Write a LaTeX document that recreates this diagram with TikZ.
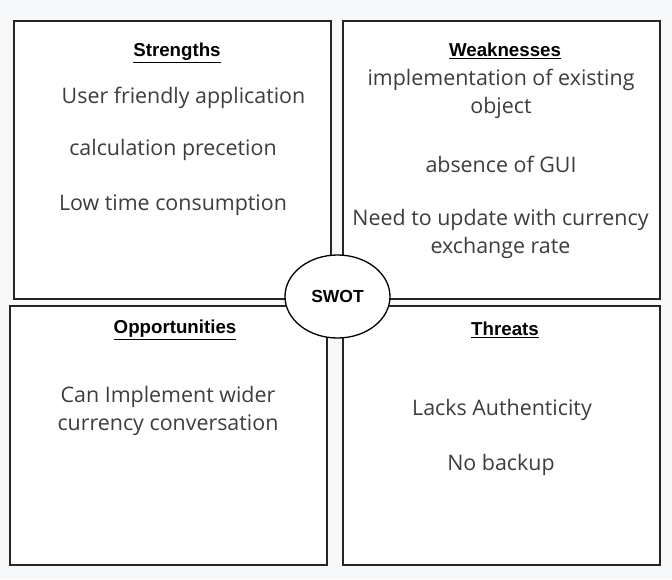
\documentclass[tikz,border=0pt]{standalone}
\usepackage{fontspec}
\setmainfont{Open Sans}
\newfontfamily\headfont{Liberation Sans}
\usetikzlibrary{shapes.geometric}
\definecolor{bodygray}{HTML}{3D3D3D}
\definecolor{canvas}{HTML}{F7F8FA}
\tikzset{
  quad/.style={draw=black!85, line width=1.3pt, fill=white, minimum width=317pt, inner sep=0pt},
  head/.style={font=\headfont\bfseries\fontsize{18.7}{22}\selectfont, inner sep=0pt},
  body/.style={font=\fontsize{21.4}{28}\selectfont, text=bodygray, align=center, inner sep=0pt},
  hub/.style={ellipse, draw, line width=1.3pt, fill=white, minimum width=105pt,
              minimum height=83pt, inner sep=0pt, font=\headfont\bfseries\fontsize{17.5}{20}\selectfont},
}
\begin{document}
\begin{tikzpicture}[x=1pt, y=-1pt]
  \fill[canvas] (0,0) rectangle (672,579);
  \useasboundingbox (0,0) rectangle (672,579);
  % the four quadrants
  \node[quad, minimum height=278pt] (str) at (172.5,160) {};
  \node[quad, minimum height=278pt] (wk) at (501.5,160) {};
  \node[quad, minimum height=259pt] (opp) at (168.5,435.5) {};
  \node[quad, minimum height=259pt] (thr) at (501.5,435.5) {};
  \node[hub] (swot) at (337.5,296.5) {SWOT};
  % headings
  \node[head] (strh) at (177,53) {\underline{Strengths}};
  \node[head] (wkh) at (505,51) {\underline{Weaknesses}};
  \node[head] (opph) at (175,330) {\underline{Opportunities}};
  \node[head] (thrh) at (505,330) {\underline{Threats}};
  % strengths
  \node[body] (s1) at (183.5,98) {User friendly application};
  \node[body] (s2) at (173,150) {calculation precetion};
  \node[body] (s3) at (173,205) {Low time consumption};
  % weaknesses
  \node[body] (w1) at (501,94) {implementation of existing\\object};
  \node[body] (w2) at (501,164) {absence of GUI};
  \node[body] (w3) at (500.5,233.5) {Need to update with currency\\exchange rate};
  % opportunities
  \node[body] (o1) at (168,411) {Can Implement wider\\currency conversation};
  % threats
  \node[body] (t1) at (502,410) {Lacks Authenticity};
  \node[body] (t2) at (501,465) {No backup};
\end{tikzpicture}
\end{document}
